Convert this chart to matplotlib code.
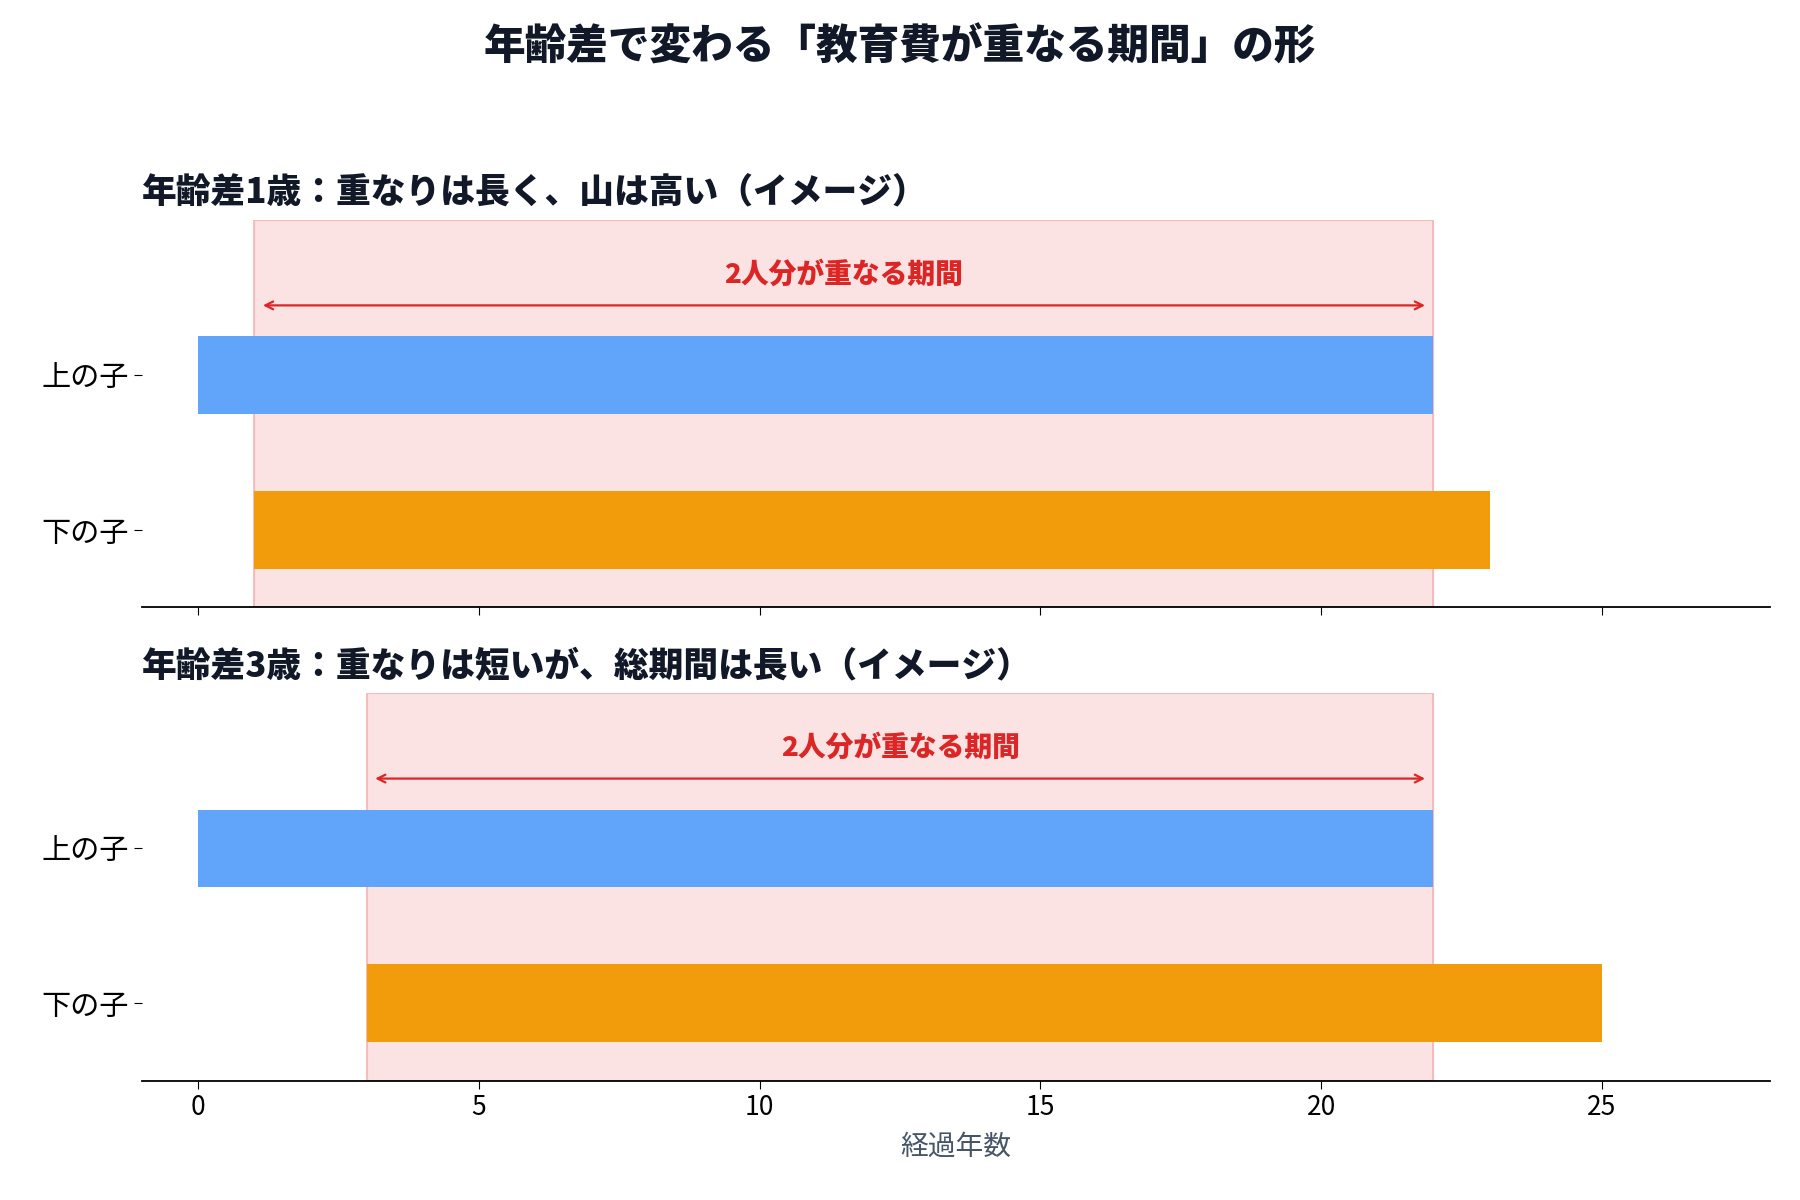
import matplotlib
matplotlib.use("Agg")
import matplotlib.pyplot as plt

plt.rcParams['font.family'] = ['Noto Sans CJK JP', 'DejaVu Sans']

# data
children = ["下の子", "上の子"]
elder_start = 0
elder_end = 22
gaps = [1, 3]
school_years = 22
subtitles = [
    "年齢差1歳：重なりは長く、山は高い（イメージ）",
    "年齢差3歳：重なりは短いが、総期間は長い（イメージ）",
]
xticks = [0, 5, 10, 15, 20, 25]

blue = "#60a5fa"
orange = "#f39c0b"
red = "#dc2626"
dark = "#111827"

fig, axes = plt.subplots(2, 1, figsize=(18, 12), dpi=100, sharex=True)
fig.subplots_adjust(left=0.079, right=0.9835, top=0.8165, bottom=0.0995, hspace=0.222)

for ax, gap, sub in zip(axes, gaps, subtitles):
    young_start = elder_start + gap
    young_end = young_start + school_years
    ov_start, ov_end = young_start, elder_end

    ax.axvspan(ov_start, ov_end, color="#ef4444", alpha=0.15, zorder=0)
    ax.axvspan(ov_start, ov_end, facecolor="none", edgecolor="#f5b5b5", lw=1.2, zorder=0)

    ax.barh(1, elder_end - elder_start, left=elder_start, height=0.5, color=blue, zorder=2)
    ax.barh(0, young_end - young_start, left=young_start, height=0.5, color=orange, zorder=2)

    ax.annotate("", xy=(ov_start + 0.1, 1.45), xytext=(ov_end - 0.1, 1.45),
                arrowprops=dict(arrowstyle="<->", color=red, lw=1.6, mutation_scale=14), zorder=3)
    ax.text((ov_start + ov_end) / 2, 1.56, "2人分が重なる期間", color=red,
            fontsize=20, fontweight="heavy", ha="center", va="bottom", zorder=3)

    ax.set_ylim(-0.5, 2.0)
    ax.set_yticks([0, 1])
    ax.set_yticklabels(children, fontsize=21)
    ax.set_xlim(-1, 28)
    ax.set_xticks(xticks)
    ax.tick_params(axis="x", labelsize=19, length=6)
    ax.tick_params(axis="y", length=6)
    for s in ["top", "right", "left"]:
        ax.spines[s].set_visible(False)
    ax.spines["bottom"].set_linewidth(1.3)
    ax.set_title(sub, loc="left", fontsize=25, fontweight="heavy", color=dark, pad=12)

axes[1].set_xlabel("経過年数", fontsize=20, color="#475569", labelpad=8)
fig.suptitle("年齢差で変わる「教育費が重なる期間」の形", fontsize=30, fontweight="heavy",
             color=dark, y=0.978)

fig.savefig("out.png")
